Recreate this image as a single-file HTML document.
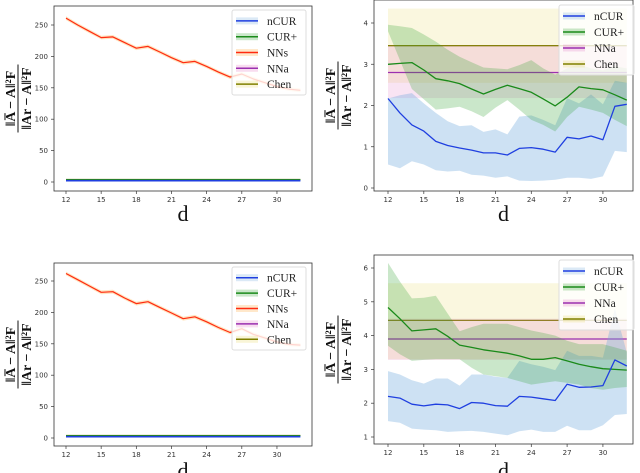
<!DOCTYPE html>
<html><head><meta charset="utf-8">
<style>
html,body{margin:0;padding:0;background:#fff;}
svg{display:block;font-family:"DejaVu Sans","Liberation Sans",sans-serif;}
.tick{font-size:7px;fill:#333;}
.leg{font-family:"Liberation Serif",serif;font-size:11.5px;fill:#222;}
.xl{font-family:"Liberation Serif",serif;font-size:22px;fill:#111;}
</style></head>
<body>
<svg id="chart" width="640" height="473" viewBox="0 0 640 473"></svg>
<script>
const dVals=[12,13,14,15,16,17,18,19,20,21,22,23,24,25,26,27,28,29,30,31,32];
const xTicks=[12,15,18,21,24,27,30];
// panel A (top-left)
const nnsA=[261,250,240,230,231,222,213,216,207,198,190,192,184,175,167,172,164,158,152,148,146];
const smallA=[3,3,3,3,3,3,3,3,3,3,3,3,3,3,3,3,3,3,3,3,3];
const yTicksA=[0,50,100,150,200,250];
// panel C (bottom-left)
const nnsC=[262,252,242,232,233,223,214,217,208,199,190,193,185,176,168,174,165,159,153,149,148];
const yTicksC=[0,50,100,150,200,250];
// panel B (top-right)
const ncurB=[2.17,1.82,1.53,1.38,1.13,1.03,0.97,0.92,0.85,0.85,0.80,0.96,0.98,0.94,0.87,1.23,1.19,1.26,1.17,1.98,2.03];
const ncurBlo=[0.57,0.48,0.65,0.57,0.43,0.40,0.42,0.32,0.30,0.25,0.28,0.18,0.17,0.18,0.20,0.25,0.25,0.22,0.28,0.90,0.87];
const ncurBhi=[2.17,2.25,2.30,2.05,1.82,1.62,1.50,1.52,1.36,1.42,1.30,1.73,1.76,1.65,1.52,2.18,2.05,2.27,2.03,2.60,2.55];
const curB=[3.00,3.02,3.04,2.86,2.65,2.60,2.53,2.40,2.28,2.39,2.49,2.41,2.32,2.16,1.99,2.20,2.45,2.41,2.38,2.26,2.13];
const curBhi=[3.96,3.92,3.88,3.72,3.55,3.35,3.18,3.05,2.92,2.90,2.88,2.98,3.10,2.90,2.75,2.90,3.00,2.90,2.85,2.95,2.90];
const curBlo=[3.80,3.10,2.40,2.15,1.90,1.93,1.97,1.86,1.72,1.95,2.13,1.90,1.65,1.53,1.37,1.72,1.97,1.90,1.82,1.65,1.50];
const nnaB=[2.80,2.18,3.45]; // mean, lo, hi
const chenB=[3.45,2.55,4.35];
const yTicksB=[0,1,2,3,4];
// panel D (bottom-right)
const ncurD=[2.20,2.15,1.97,1.92,1.97,1.95,1.84,2.02,2.00,1.93,1.91,2.20,2.18,2.13,2.08,2.56,2.47,2.48,2.52,3.28,3.10];
const ncurDlo=[1.47,1.42,1.25,1.22,1.20,1.15,1.17,1.18,1.15,1.10,1.05,1.17,1.22,1.15,1.15,1.33,1.20,1.20,1.35,1.65,1.68];
const ncurDhi=[2.95,2.85,2.68,2.58,2.73,2.73,2.52,2.85,2.85,2.78,2.75,3.25,3.15,3.08,2.98,3.55,3.40,3.40,3.35,4.80,3.50];
const curD=[4.83,4.50,4.14,4.17,4.20,3.98,3.72,3.65,3.58,3.53,3.48,3.40,3.30,3.30,3.35,3.25,3.15,3.08,3.02,3.00,2.98];
const curDhi=[6.15,5.60,5.10,5.12,5.18,4.65,4.13,4.25,4.35,4.35,4.35,4.25,4.15,4.08,4.00,3.85,3.75,3.75,3.75,3.65,3.55];
const curDlo=[3.70,3.45,3.25,3.28,3.30,3.30,3.30,3.05,2.85,2.80,2.75,2.65,2.55,2.60,2.65,2.60,2.55,2.45,2.40,2.45,2.48];
const nnaD=[3.90,3.28,4.50];
const chenD=[4.45,3.30,5.55];
const yTicksD=[1,2,3,4,5,6];

const svg=document.getElementById('chart');
const NS='http://www.w3.org/2000/svg';
function mk(tag,attrs,parent){const e=document.createElementNS(NS,tag);for(const k in attrs)e.setAttribute(k,attrs[k]);(parent||svg).appendChild(e);return e;}

function panel(id,box,xs,ys,draw,legendItems,legBox,xlabY){
  const g=mk('g',{});
  
  
  const X=d=>xs.p0+(d-xs.d0)*xs.k;
  const Y=v=>ys.p0-(v-ys.v0)*ys.k;
  const clipId=id+'-clip';
  const cp=mk('clipPath',{id:clipId},g);mk('rect',{x:box.x,y:box.y,width:box.w,height:box.h},cp);
  const plot=mk('g',{'clip-path':'url(#'+clipId+')'},g);
  draw(plot,X,Y);
  const frame=mk('rect',{x:box.x,y:box.y,width:box.w,height:box.h,fill:'none',stroke:'#333','stroke-width':0.8},g);
  
  xTicks.forEach(t=>{const x=X(t);mk('line',{x1:x,x2:x,y1:box.y+box.h,y2:box.y+box.h+3,stroke:'#333','stroke-width':0.7},g);
    const tx=mk('text',{x:x,y:box.y+box.h+11,'text-anchor':'middle',class:'tick'},g);tx.textContent=t;
    });
  ys.ticks.forEach(t=>{const y=Y(t);mk('line',{x1:box.x-3,x2:box.x,y1:y,y2:y,stroke:'#333','stroke-width':0.7},g);
    const tx=mk('text',{x:box.x-6,y:y+2.5,'text-anchor':'end',class:'tick'},g);tx.textContent=t;
    });
  const xl=mk('text',{x:box.x+box.w/2,y:xlabY,'text-anchor':'middle',class:'xl'},g);xl.textContent='d';
  
  // y label fraction
  const cx=box.x-36, cy=box.y+box.h/2;
  const yl=mk('g',{transform:'translate('+cx+','+cy+') rotate(-90)'},g);
  
  const t1=mk('text',{x:0,y:-3,'text-anchor':'middle','font-family':'Liberation Serif,serif','font-size':14,'font-weight':'bold',fill:'#111'},yl);
  t1.textContent='‖A̅ − A‖²F';
  mk('line',{x1:-34,x2:34,y1:0,y2:0,stroke:'#111','stroke-width':1},yl);
  const t2=mk('text',{x:0,y:13,'text-anchor':'middle','font-family':'Liberation Serif,serif','font-size':14,'font-weight':'bold',fill:'#111'},yl);
  t2.textContent='‖Ar − A‖²F';
  // legend
  const lg=mk('g',{},g);
  
  mk('rect',{x:legBox.x,y:legBox.y,width:legBox.w,height:legBox.h,rx:2,fill:'#fff','fill-opacity':0.8,stroke:'#ddd'},lg);
  const step=(legBox.h-6)/legendItems.length;
  legendItems.forEach((it,i)=>{const y=legBox.y+3+step*(i+0.5);
    const e=mk('g',{},lg);
    
    
    mk('rect',{x:legBox.x+4,y:y-3.5,width:22,height:7,fill:it[2],'fill-opacity':0.25},e);
    mk('line',{x1:legBox.x+4,x2:legBox.x+26,y1:y,y2:y,stroke:it[1],'stroke-width':1.5},e);
    const t=mk('text',{x:legBox.x+35,y:y+4,class:'leg'},e);t.textContent=it[0];});
}
function line(p,X,Y,vals,color,w,name){const d=vals.map((v,i)=>(i?'L':'M')+X(dVals[i]).toFixed(1)+','+Y(v).toFixed(1)).join('');
  const e=mk('path',{d:d,fill:'none',stroke:color,'stroke-width':w||1.3,'stroke-linejoin':'round'},p);
  }
function band(p,X,Y,lo,hi,color,op,name){let d=hi.map((v,i)=>(i?'L':'M')+X(dVals[i]).toFixed(1)+','+Y(v).toFixed(1)).join('');
  for(let i=lo.length-1;i>=0;i--)d+='L'+X(dVals[i]).toFixed(1)+','+Y(lo[i]).toFixed(1);
  const e=mk('path',{d:d+'Z',fill:color,'fill-opacity':op,stroke:'none'},p);
  }
function hband(p,X,Y,arr,lineC,fillC,op,name){const x0=X(dVals[0]),x1=X(dVals[dVals.length-1]);
  const r=mk('rect',{x:x0,y:Y(arr[2]),width:x1-x0,height:Y(arr[1])-Y(arr[2]),fill:fillC,'fill-opacity':op},p);
  
  const l=mk('line',{x1:x0,x2:x1,y1:Y(arr[0]),y2:Y(arr[0]),stroke:lineC,'stroke-width':1.3},p);
  }

const legL=[['nCUR','#1f3fe0','#6fa8dc'],['CUR+','#1a8a1a','#2ca02c'],['NNs','#ff2a10','#ffa530'],['NNa','#9b30b0','#e377c2'],['Chen','#808000','#e8d860']];
const legR=[['nCUR','#1f3fe0','#6fa8dc'],['CUR+','#1a8a1a','#2ca02c'],['NNa','#9b30b0','#e377c2'],['Chen','#808000','#e8d860']];

function leftDraw(nns){return (p,X,Y)=>{
  band(p,X,Y,nns.map(v=>v-3),nns.map(v=>v+3),'#ffa530',0.3,'nns-band');
  line(p,X,Y,nns,'#ff2a10',1.2,'nns-line');
  line(p,X,Y,smallA.map(v=>v+1),'#808000',1.3,'chen-line');
  line(p,X,Y,smallA.map(v=>v+0.5),'#1a8a1a',1.3,'cur-plus-line');
  line(p,X,Y,smallA.map(v=>v-1),'#1f3fe0',1.6,'ncur-line');
};}

panel('panel-top-left',{x:54,y:6,w:258,h:185},{d0:12,p0:66,k:11.72},{v0:0,p0:182,k:0.628,ticks:yTicksA},leftDraw(nnsA),legL,{x:232,y:10,w:74,h:85},221);
panel('panel-bottom-left',{x:54,y:263,w:258,h:183},{d0:12,p0:66,k:11.72},{v0:0,p0:438,k:0.628,ticks:yTicksC},leftDraw(nnsC),legL,{x:232,y:267,w:74,h:83},478);
panel('panel-top-right',{x:374,y:0,w:259,h:191},{d0:12,p0:388,k:11.94},{v0:0,p0:188,k:41.25,ticks:yTicksB},(p,X,Y)=>{
  hband(p,X,Y,chenB,'#808000','#e8d860',0.2,'chen');
  hband(p,X,Y,nnaB,'#9b30b0','#e377c2',0.2,'nna');
  band(p,X,Y,ncurBlo,ncurBhi,'#6fa8dc',0.35,'ncur-band');
  band(p,X,Y,curBlo,curBhi,'#2ca02c',0.25,'cur-plus-band');
  line(p,X,Y,curB,'#1a8a1a',1.3,'cur-plus-line');
  line(p,X,Y,ncurB,'#1f3fe0',1.3,'ncur-line');
},legR,{x:559,y:5,w:75,h:70},221);
panel('panel-bottom-right',{x:374,y:255,w:259,h:189},{d0:12,p0:388,k:11.94},{v0:1,p0:437,k:33.8,ticks:yTicksD},(p,X,Y)=>{
  hband(p,X,Y,chenD,'#808000','#e8d860',0.2,'chen');
  hband(p,X,Y,nnaD,'#9b30b0','#e377c2',0.2,'nna');
  band(p,X,Y,ncurDlo,ncurDhi,'#6fa8dc',0.35,'ncur-band');
  band(p,X,Y,curDlo,curDhi,'#2ca02c',0.25,'cur-plus-band');
  line(p,X,Y,curD,'#1a8a1a',1.3,'cur-plus-line');
  line(p,X,Y,ncurD,'#1f3fe0',1.3,'ncur-line');
},legR,{x:559,y:260,w:75,h:70},478);
</script>
</body></html>
